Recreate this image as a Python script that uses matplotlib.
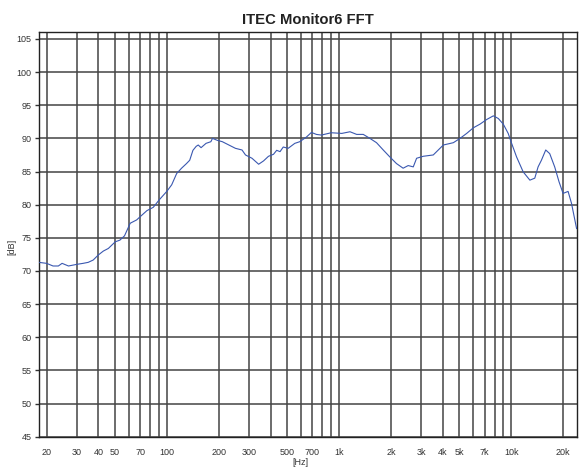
import matplotlib
matplotlib.use("Agg")
import matplotlib.pyplot as plt
from matplotlib.ticker import FixedLocator, NullFormatter, NullLocator

plt.rcParams["font.family"] = ["Liberation Sans", "DejaVu Sans"]

freq = [18, 20, 21.8, 23.4, 24.6, 26.8, 30, 32.6, 34.9, 37.3, 39.9, 42.7, 45.7,
        50.1, 53.3, 56.7, 61.2, 66.7, 70, 76.5, 83.3, 90, 99.8, 106.6, 113.9,
        121.6, 129.9, 135.6, 141.6, 147.9, 152, 157.9, 168.7, 180, 183.9, 196.5,
        209.8, 229, 250, 273, 286, 312, 341, 364, 389, 416, 434, 454, 474, 506,
        553, 591, 646, 691, 738, 789, 900, 1037, 1157, 1265, 1382, 1510, 1650,
        1805, 1972, 2155, 2355, 2520, 2697, 2820, 3082, 3524, 4031, 4610, 5040,
        5510, 6026, 6586, 7200, 7870, 8410, 8990, 9600, 10050, 10740, 11730,
        12830, 13700, 14320, 14970, 15860, 16730, 17880, 18950, 20000, 21390,
        22390, 23960]
level = [71.3, 71.15, 70.75, 70.75, 71.15, 70.75, 71.0, 71.15, 71.3, 71.65, 72.4,
         73.0, 73.4, 74.4, 74.65, 75.3, 77.2, 77.7, 78.2, 79.1, 79.6, 80.7, 82.0,
         83.0, 84.7, 85.5, 86.2, 86.7, 88.2, 88.8, 89.0, 88.6, 89.25, 89.5, 90.0,
         89.7, 89.5, 89.0, 88.5, 88.25, 87.5, 87.0, 86.1, 86.6, 87.3, 87.6, 88.2,
         88.0, 88.7, 88.5, 89.25, 89.5, 90.2, 90.9, 90.6, 90.5, 90.85, 90.75, 91.0,
         90.6, 90.6, 90.0, 89.35, 88.25, 87.2, 86.2, 85.5, 85.9, 85.7, 87.0, 87.3,
         87.5, 89.0, 89.35, 90.0, 90.75, 91.6, 92.15, 92.85, 93.4, 93.0, 92.15,
         90.75, 89.25, 87.2, 84.95, 83.7, 84.0, 85.7, 86.7, 88.25, 87.7, 85.7,
         83.45, 81.7, 82.0, 80.2, 76.4]

xtick_vals = [20, 30, 40, 50, 70, 100, 200, 300, 500, 700, 1000, 2000, 3000,
              4000, 5000, 7000, 10000, 20000]
xtick_labels = ["20", "30", "40", "50", "70", "100", "200", "300", "500", "700",
                "1k", "2k", "3k", "4k", "5k", "7k", "10k", "20k"]
xgrid_vals = [m * d for d in [10, 100, 1000, 10000] for m in range(1, 10)
              if 18 <= m * d <= 24000]
ytick_vals = list(range(45, 106, 5))

fig = plt.figure(figsize=(5.84, 4.67), dpi=100)
ax = fig.add_axes([0.0663, 0.0649, 0.9212, 0.8659])

for f in xgrid_vals:
    ax.axvline(f, color="#444444", lw=1.1, zorder=1)
for v in ytick_vals:
    ax.axhline(v, color="#444444", lw=1.1, zorder=1)

ax.plot(freq, level, color="#3a58b0", lw=0.8, zorder=3)

ax.set_xscale("log")
ax.set_xlim(18, 24000)
ax.set_ylim(45, 106)
ax.xaxis.set_major_locator(FixedLocator(xtick_vals))
ax.set_xticklabels(xtick_labels)
ax.xaxis.set_minor_locator(NullLocator())
ax.xaxis.set_minor_formatter(NullFormatter())
ax.set_yticks(ytick_vals)

ax.tick_params(axis="x", length=0, pad=8, labelsize=6.5, colors="#333333")
ax.tick_params(axis="y", length=3, width=1, pad=2, labelsize=6.5,
               direction="out", colors="#333333")

for s in ax.spines.values():
    s.set_color("#222222")
    s.set_linewidth(1.0)

ax.set_title("ITEC Monitor6 FFT", fontsize=10.7, fontweight="bold", pad=6,
             color="#222222")
ax.set_xlabel("[Hz]", fontsize=6.5, color="#333333", va="center")
ax.set_ylabel("[dB]", fontsize=6.5, color="#333333", va="center")
ax.xaxis.set_label_coords(0.486, -0.065)
ax.yaxis.set_label_coords(-0.049, 0.47)

fig.savefig("out.png", dpi=100)
